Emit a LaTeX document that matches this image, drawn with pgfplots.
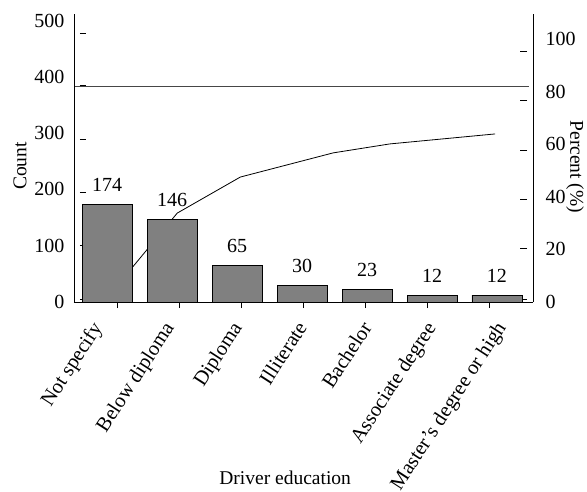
\documentclass[border=0pt]{standalone}
\usepackage{pgfplots}
\pgfplotsset{compat=1.18}
\usepackage{fontspec}
\setmainfont{Liberation Serif}
\definecolor{barfill}{RGB}{128,128,128}
\definecolor{refline}{RGB}{70,70,70}

\begin{document}
\begin{tikzpicture}[font=\fontsize{19.5}{22}\selectfont]
\useasboundingbox (-74pt,-189pt) rectangle (513pt,302pt);
\pgfplotsset{/pgf/number format/assume math mode=true}
% Percent axis (drawn first so that the bars cover the cumulative line)
\begin{axis}[
  scale only axis, width=459pt, height=288pt,
  xmin=-0.508, xmax=6.554,
  ymin=0, ymax=109.5,
  axis x line=none,
  axis y line*=right,
  axis line style={-, line width=0.8pt},
  ytick={0,20,40,60,80,100},
  ytick pos=right,
  ytick align=inside,
  major tick length=7pt,
  ytick style={draw=none},
  yticklabel style={xshift=9pt, font=\fontsize{20}{22}\selectfont},
  extra y ticks={1.1,20.5,39.2,57.8,76.8,95.4},
  extra y tick labels={},
  extra y tick style={ytick style={draw=black, line width=0.6pt, xshift=-6pt}},
  ylabel={Percent (\%)},
  ylabel style={at={(axis description cs:1.0915,0.469)}, anchor=center, rotate=180, inner sep=1pt},
]
\addplot[refline, line width=1pt] coordinates {(-0.508,82) (6.49,82)};
\addplot[black, line width=0.8pt] coordinates {(0,1.5) (1.08,33.8) (2.05,47.5) (3.48,56.7) (4.35,60.1) (5.97,63.9)};
\end{axis}
% Count axis
\begin{axis}[
  scale only axis, width=459pt, height=288pt,
  xmin=-0.508, xmax=6.554,
  ymin=0, ymax=511.5,
  axis x line*=bottom, axis y line*=left,
  axis line style={-, line width=0.8pt},
  xtick={0,1.108,2.154,3.154,4.154,5.138,6.215},
  xticklabels={Not specify, Below diploma, Diploma, Illiterate, Bachelor, Associate degree, Master’s degree or high},
  xtick pos=bottom,
  xtick align=outside,
  major tick length=6pt,
  xtick style={draw=none},
  xticklabel style={xshift=-17pt, yshift=-9pt, rotate=57, anchor=north east, inner sep=2pt, font=\fontsize{20.5}{22}\selectfont},
  extra x ticks={0.154,1.108,2.062,3.015,3.969,4.923,5.877},
  extra x tick labels={},
  extra x tick style={xtick style={draw=black, line width=0.6pt}},
  ytick={0,100,200,300,400,500},
  ytick pos=left,
  ytick align=inside,
  ytick style={draw=none},
  yticklabel style={xshift=-6pt, font=\fontsize{20}{22}\selectfont},
  extra y ticks={5.3,100,194.7,289.5,384,477},
  extra y tick labels={},
  extra y tick style={ytick style={draw=black, line width=0.6pt, xshift=6pt}},
  ylabel={Count},
  ylabel style={at={(axis description cs:-0.1176,0.472)}, anchor=center},
  xlabel={Driver education},
  xlabel style={at={(axis description cs:0.46,-0.611)}, anchor=center},
  nodes near coords,
  nodes near coords style={anchor=south, yshift=9pt, font=\fontsize{20}{22}\selectfont},
]
\addplot[ybar, bar width=50pt, fill=barfill, draw=black, line width=0.7pt] coordinates {(0,174) (1,146) (2,65) (3,30) (4,23) (5,12) (6,12)};
\end{axis}
\end{tikzpicture}
\end{document}
